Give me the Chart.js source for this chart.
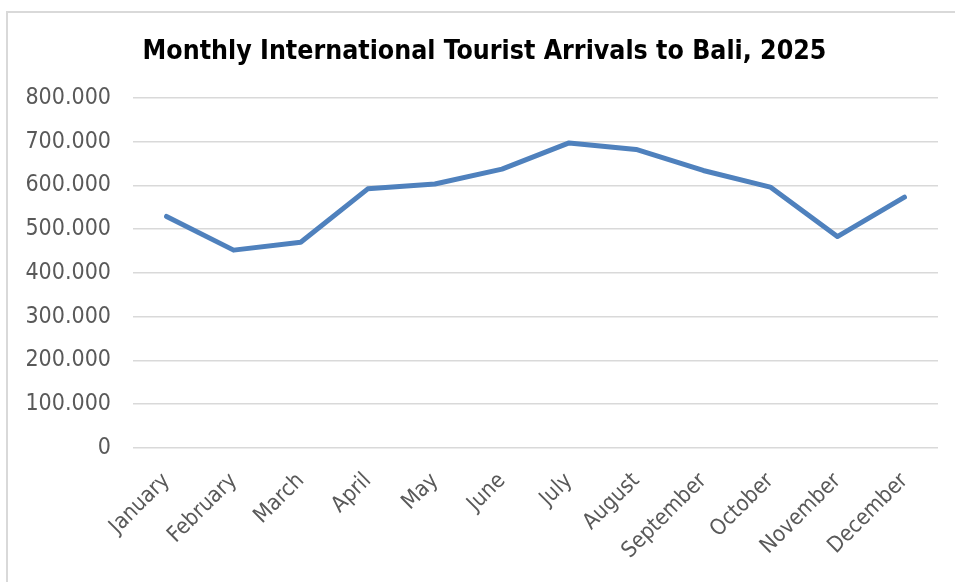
<!DOCTYPE html>
<html>
<head>
<meta charset="utf-8">
<script src="https://cdn.jsdelivr.net/npm/chart.js@4.4.1/dist/chart.umd.min.js"></script>
<style>
  html, body { margin: 0; padding: 0; background: #ffffff; overflow: hidden; }
  #wrap { position: relative; width: 955px; height: 582px; overflow: hidden; }
  #frame { position: absolute; left: 6px; top: 11px; width: 2000px; height: 2000px;
           border-left: 2px solid #d9d9d9; border-top: 2px solid #d9d9d9; box-sizing: border-box; }
  canvas { position: absolute; left: 0; top: 0; }
</style>
</head>
<body>
<div id="wrap">
  <div id="frame"></div>
  <canvas id="c" width="955" height="582"></canvas>
</div>
<script>
const months = ['January','February','March','April','May','June','July','August','September','October','November','December'];
const arrivals = [529000, 452000, 470000, 592000, 603000, 637000, 697000, 682000, 634000, 596000, 483000, 573000];
const yTickLabels = ['0','100.000','200.000','300.000','400.000','500.000','600.000','700.000','800.000'];
const chartTitle = 'Monthly International Tourist Arrivals to Bali, 2025';

const FONT = '"DejaVu Sans Condensed", "DejaVu Sans", sans-serif';

new Chart(document.getElementById('c'), {
  type: 'line',
  data: {
    labels: months,
    datasets: [{
      data: arrivals,
      borderColor: '#4f81bd',
      borderWidth: 5,
      pointRadius: 0,
      pointHoverRadius: 0,
      tension: 0,
      fill: false,
      borderCapStyle: 'round',
      borderJoinStyle: 'round'
    }]
  },
  options: {
    responsive: false,
    animation: false,
    devicePixelRatio: 1,
    layout: { padding: { left: 20, right: 6, top: 12, bottom: 0 } },
    plugins: {
      legend: { display: false },
      tooltip: { enabled: false },
      title: {
        display: true,
        text: chartTitle,
        color: '#000000',
        font: { family: FONT, size: 26.5, weight: 'bold' },
        padding: { top: 24, bottom: 30 }
      }
    },
    scales: {
      x: {
        offset: true,
        grid: { display: false, drawTicks: false },
        border: { display: false },
        ticks: {
          color: '#595959',
          font: { family: FONT, size: 22 },
          minRotation: 45,
          maxRotation: 45,
          padding: 20,
          autoSkip: false
        },
        afterFit: (s) => { s.height = 134; }
      },
      y: {
        min: 0,
        max: 800000,
        grid: { color: '#d9d9d9', lineWidth: 1.5, drawTicks: false },
        border: { display: false },
        ticks: {
          stepSize: 100000,
          color: '#595959',
          font: { family: FONT, size: 23 },
          padding: 22,
          callback: (v, i) => yTickLabels[i]
        },
        afterFit: (s) => { s.width = 113; }
      },
      yRight: {
        position: 'right',
        display: true,
        grid: { display: false, drawTicks: false },
        border: { display: false },
        ticks: { display: false },
        afterFit: (s) => { s.width = 11; }
      }
    }
  }
});
</script>
</body>
</html>
